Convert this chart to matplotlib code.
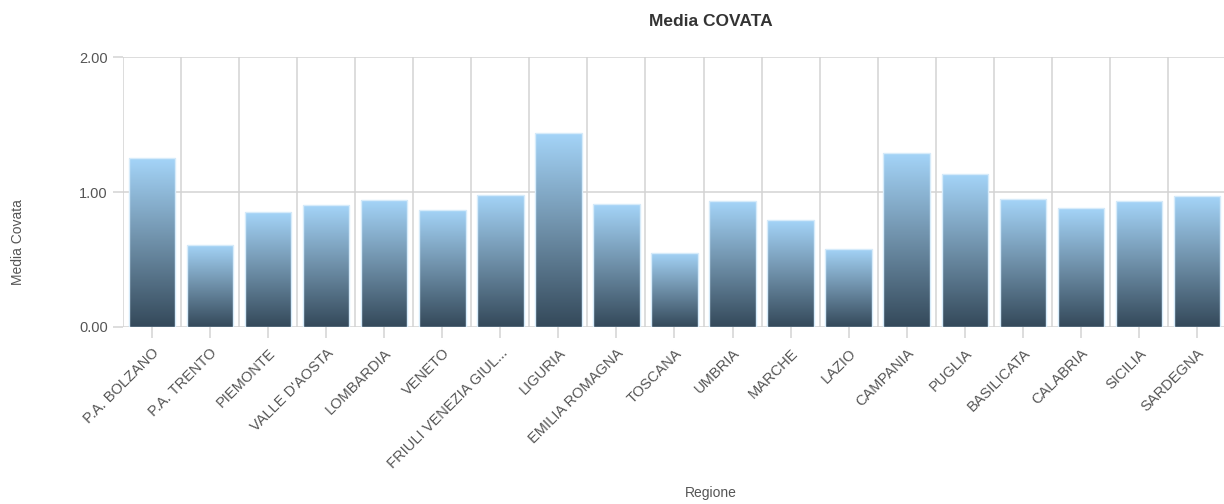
#!/usr/bin/env python3
"""Bar chart of mean brood (Media COVATA) per Italian region."""

import matplotlib

matplotlib.use("Agg")
import matplotlib.pyplot as plt
import numpy as np
from matplotlib.colors import LinearSegmentedColormap

regions = [
    "P.A. BOLZANO", "P.A. TRENTO", "PIEMONTE", "VALLE D'AOSTA", "LOMBARDIA",
    "VENETO", "FRIULI VENEZIA GIUL...", "LIGURIA", "EMILIA ROMAGNA", "TOSCANA",
    "UMBRIA", "MARCHE", "LAZIO", "CAMPANIA", "PUGLIA", "BASILICATA",
    "CALABRIA", "SICILIA", "SARDEGNA",
]
media_covata = [
    1.25, 0.61, 0.85, 0.90, 0.94,
    0.87, 0.98, 1.44, 0.91, 0.55,
    0.93, 0.79, 0.58, 1.29, 1.13, 0.95,
    0.88, 0.93, 0.97,
]
y_ticks = [0, 1, 2]

plt.rcParams["font.family"] = ["Liberation Sans", "DejaVu Sans"]

GRID = "#d3d3d3"
TEXT = "#555555"
grad = LinearSegmentedColormap.from_list("bar", ["#34495a", "#6e8fa8", "#a4d4f8"])

fig = plt.figure(figsize=(12.24, 5.04), dpi=100)
ax = fig.add_axes([123 / 1224, 177.3 / 504, 1103 / 1224, 269.4 / 504])

x = np.arange(len(regions))
bars = ax.bar(x, media_covata, width=0.80, facecolor="none",
              edgecolor="#d6ebfa", linewidth=1.0, zorder=3)

# vertical gradient inside each bar, clipped to the bar shape
g = np.linspace(0, 1, 256).reshape(-1, 1)
for b in bars:
    x0, w, h = b.get_x(), b.get_width(), b.get_height()
    im = ax.imshow(g, cmap=grad, origin="lower", aspect="auto",
                   extent=[x0, x0 + w, 0, h], zorder=2)
    im.set_clip_path(b)

ax.set_xlim(-0.5, len(regions) - 0.5)
ax.set_ylim(0, 2)

ax.set_xticks(x)
ax.set_xticks(np.arange(len(regions) + 1) - 0.5, minor=True)
ax.set_xticklabels(regions, rotation=45, ha="right", va="top",
                   rotation_mode="anchor", fontsize=10.5, color=TEXT)
ax.set_yticks(y_ticks)
ax.set_yticklabels([f"{v:.2f}" for v in y_ticks], fontsize=10.5, color=TEXT)

ax.tick_params(axis="x", which="major", length=8, width=1.1, color=GRID, pad=6)
ax.tick_params(axis="x", which="minor", length=0)
ax.tick_params(axis="y", length=7, width=1.1, color=GRID, pad=4)

ax.grid(True, axis="x", which="minor", color=GRID, linewidth=1.1, zorder=0)
ax.grid(True, axis="y", which="major", color=GRID, linewidth=1.1, zorder=0)
ax.grid(False, axis="x", which="major")
ax.set_axisbelow(True)
for s in ax.spines.values():
    s.set_visible(False)

fig.text(711 / 1224, 1 - 22 / 504, "Media COVATA", ha="center", va="center",
         fontsize=12.5, fontweight="bold", color="#333333")
fig.text(711 / 1224, 1 - 493 / 504, "Regione", ha="center", va="center",
         fontsize=10, color=TEXT)
fig.text(18 / 1224, 1 - 242 / 504, "Media Covata", ha="center", va="center",
         rotation=90, fontsize=10, color=TEXT)

fig.savefig("out.png", dpi=100)
